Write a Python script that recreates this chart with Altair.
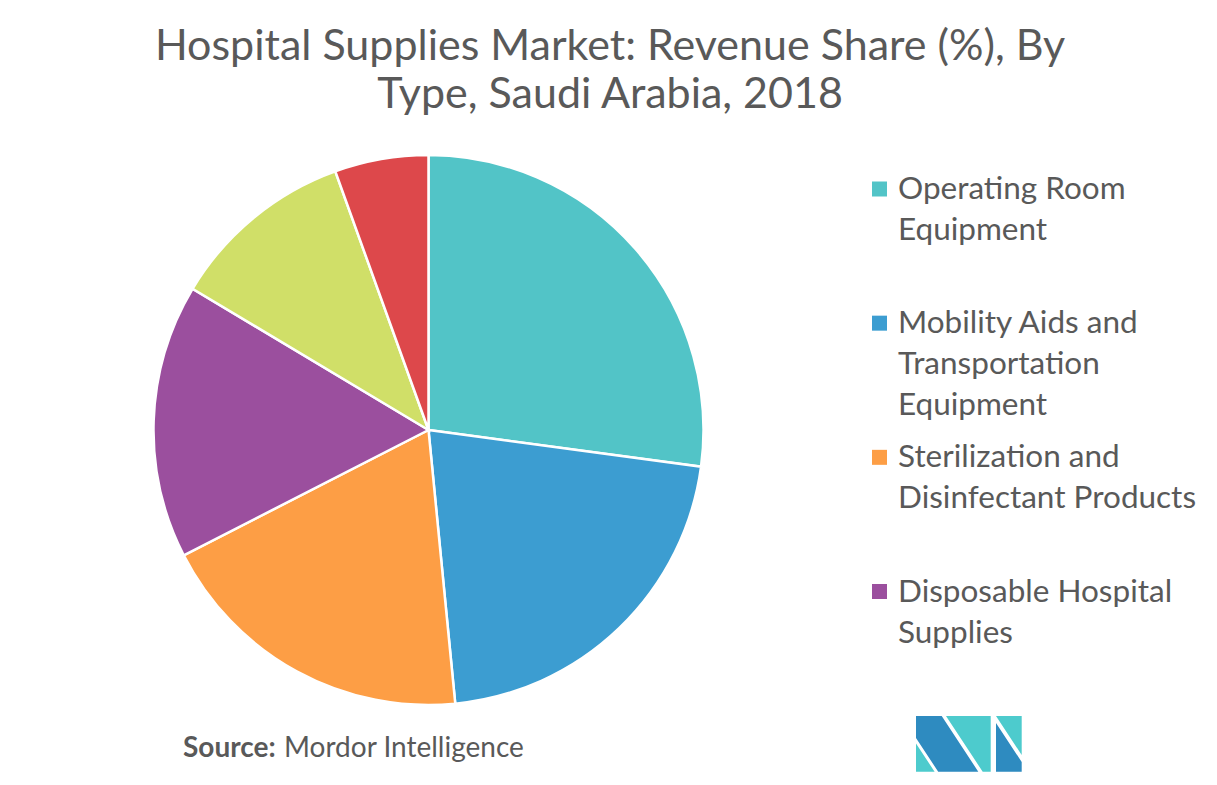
import altair as alt
import pandas as pd

# ---- data ----
categories = [
    "Operating Room Equipment",
    "Mobility Aids and Transportation Equipment",
    "Sterilization and Disinfectant Products",
    "Disposable Hospital Supplies",
    "Patient Examination Devices",
    "Other Hospital Supplies",
]
shares = [27.1, 21.3, 19.0, 16.1, 10.9, 5.5]
colors = ["#52C4C7", "#3C9DD1", "#FD9E45", "#9B4F9E", "#D0DF68", "#DD484B"]

legend_categories = categories[:4]
legend_lines = [
    ["Operating Room", "Equipment"],
    ["Mobility Aids and", "Transportation", "Equipment"],
    ["Sterilization and", "Disinfectant Products"],
    ["Disposable Hospital", "Supplies"],
]
title_lines = ["Hospital Supplies Market: Revenue Share (%), By", "Type, Saudi Arabia, 2018"]

FONT = "Lato"
TEXT_COLOR = "#595959"

pie_df = pd.DataFrame({"category": categories, "share": shares, "idx": list(range(len(categories)))})
leg_df = pd.DataFrame({"category": legend_categories, "label": legend_lines})
one = pd.DataFrame({"a": [0]})

color_enc = alt.Color("category:N", scale=alt.Scale(domain=categories, range=colors), legend=None)

pie = alt.Chart(pie_df).mark_arc(outerRadius=275, stroke="white", strokeWidth=2.5).encode(
    theta=alt.Theta("share:Q", stack=True),
    color=color_enc,
    order=alt.Order("idx:Q", sort="ascending"),
    x=alt.value(428.5),
    y=alt.value(430),
)

leg_y = alt.Y(
    "category:N",
    scale=alt.Scale(type="point", domain=legend_categories, range=[189, 591.5], padding=0),
    axis=None,
)

leg_sym = alt.Chart(leg_df).mark_square(size=225, opacity=1).encode(
    x=alt.value(879.5),
    y=leg_y,
    color=color_enc,
)

leg_txt = alt.Chart(leg_df).mark_text(
    align="left", baseline="top", font=FONT, fontSize=31.5, lineHeight=41,
    color=TEXT_COLOR, dy=-14.9,
).encode(
    x=alt.value(898),
    y=leg_y,
    text=alt.Text("label:N"),
)

title = alt.Chart(one).mark_text(
    align="center", baseline="top", font=FONT, fontSize=43, lineHeight=48,
    color=TEXT_COLOR,
).encode(
    x=alt.value(610),
    y=alt.value(26),
    text=alt.value(title_lines),
)

src_bold = alt.Chart(one).mark_text(
    align="left", baseline="alphabetic", font=FONT, fontSize=28, fontWeight="bold",
    color=TEXT_COLOR,
).encode(x=alt.value(183), y=alt.value(757), text=alt.value("Source:"))

src_reg = alt.Chart(one).mark_text(
    align="left", baseline="alphabetic", font=FONT, fontSize=28,
    color=TEXT_COLOR,
).encode(x=alt.value(284), y=alt.value(757), text=alt.value("Mordor Intelligence"))

# decorative logo (bottom right), drawn as custom symbol paths
logo_blue = "M-53,-28L-27.3,-28L9.3,27.7L-30.8,27.7L-53,-6Z M27,-21L27,27.7L52.7,27.7L52.7,18Z"
logo_teal = "M-53,-0.5L-53,27.7L-34.4,27.7Z M-23,-28L21.7,-28L21.7,27.7L13.7,27.7Z M27,-28L52.7,-28L52.7,11Z"

logo1 = alt.Chart(one).mark_point(shape=logo_blue, size=4, filled=True, color="#2E8BC0", opacity=1, strokeWidth=0).encode(
    x=alt.value(969), y=alt.value(744))
logo2 = alt.Chart(one).mark_point(shape=logo_teal, size=4, filled=True, color="#4DCBCD", opacity=1, strokeWidth=0).encode(
    x=alt.value(969), y=alt.value(744))

chart = alt.layer(pie, leg_sym, leg_txt, title, src_bold, src_reg, logo1, logo2).properties(
    width=1217, height=785,
    autosize=alt.AutoSizeParams(type="none"),
    padding=0,
    background="white",
).configure_view(stroke=None)

chart.save("out.html", embed_options={"renderer": "svg", "actions": False})
